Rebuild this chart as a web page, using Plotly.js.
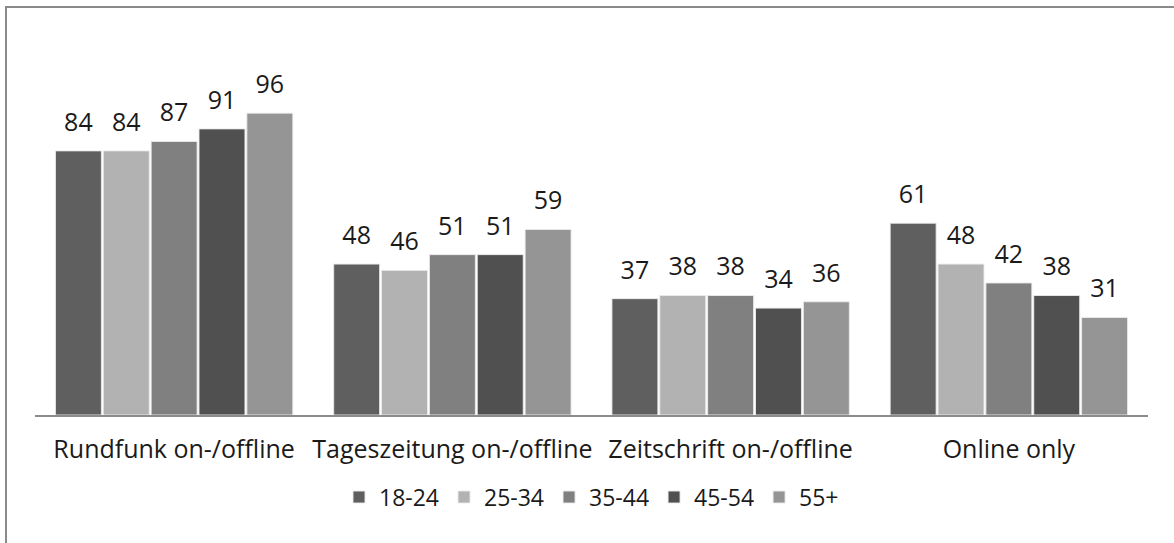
<!DOCTYPE html>
<html><head><meta charset="utf-8">
<script src="https://cdn.plot.ly/plotly-3.0.1.min.js"></script>
<style>
body{margin:0;padding:0;background:#fff;}
#wrap{position:relative;width:1174px;height:543px;overflow:hidden;}
#frame{position:absolute;left:5px;top:6px;width:1300px;height:700px;border-left:2px solid #8a8a8a;border-top:2px solid #8a8a8a;pointer-events:none;}
#chart{position:absolute;left:0;top:0;width:1174px;height:543px;}
</style></head>
<body><div id="wrap"><div id="chart"></div><div id="frame"></div></div>
<script>
const categories = ["Rundfunk on-/offline", "Tageszeitung on-/offline", "Zeitschrift on-/offline", "Online only"];
const seriesNames = ["18-24", "25-34", "35-44", "45-54", "55+"];
const v18_24 = [84, 48, 37, 61];
const v25_34 = [84, 46, 38, 48];
const v35_44 = [87, 51, 38, 42];
const v45_54 = [91, 51, 34, 38];
const v55plus = [96, 59, 36, 31];
const seriesValues = [v18_24, v25_34, v35_44, v45_54, v55plus];
const colors = ["#5f5f5f", "#b2b2b2", "#808080", "#505050", "#959595"];

const font = "Open Sans, Lato, sans-serif";
const labelLift = 3.2; // invisible spacer above each bar to lift its label

const traces = [];
seriesNames.forEach((name, i) => {
  traces.push({
    type: "bar", name: name, x: categories, y: seriesValues[i],
    offsetgroup: String(i),
    marker: {color: colors[i], line: {color: "rgba(235,235,235,0.9)", width: 1}},
    hoverinfo: "skip", legendrank: i
  });
});
seriesNames.forEach((name, i) => {
  traces.push({
    type: "bar", name: name + " label", x: categories,
    y: seriesValues[i].map(() => labelLift), base: seriesValues[i],
    offsetgroup: String(i), showlegend: false,
    marker: {color: "rgba(0,0,0,0)"},
    text: seriesValues[i].map(String), textposition: "outside", constraintext: "none",
    textfont: {family: font, size: 25, color: "#1a1a1a"},
    cliponaxis: false, hoverinfo: "skip"
  });
});

const layout = {
  width: 1174, height: 543,
  margin: {l: 35, r: 26, t: 88, b: 128},
  paper_bgcolor: "rgba(0,0,0,0)", plot_bgcolor: "rgba(0,0,0,0)",
  barmode: "group", bargap: 0.14, bargroupgap: 0.04,
  showlegend: true,
  legend: {orientation: "h", x: 0.5, xanchor: "center", y: -0.251, yanchor: "middle",
           font: {family: font, size: 23, color: "#1a1a1a"}, traceorder: "normal", itemclick: false},
  xaxis: {showline: true, linecolor: "#8c8c8c", linewidth: 2, ticks: "", ticklabelstandoff: 11,
          tickfont: {family: font, size: 25, color: "#1a1a1a"}, fixedrange: true},
  yaxis: {range: [0, 104], visible: false, showgrid: false, zeroline: false, fixedrange: true},
  font: {family: font}
};
Plotly.newPlot("chart", traces, layout, {displayModeBar: false, staticPlot: true});
</script></body></html>
